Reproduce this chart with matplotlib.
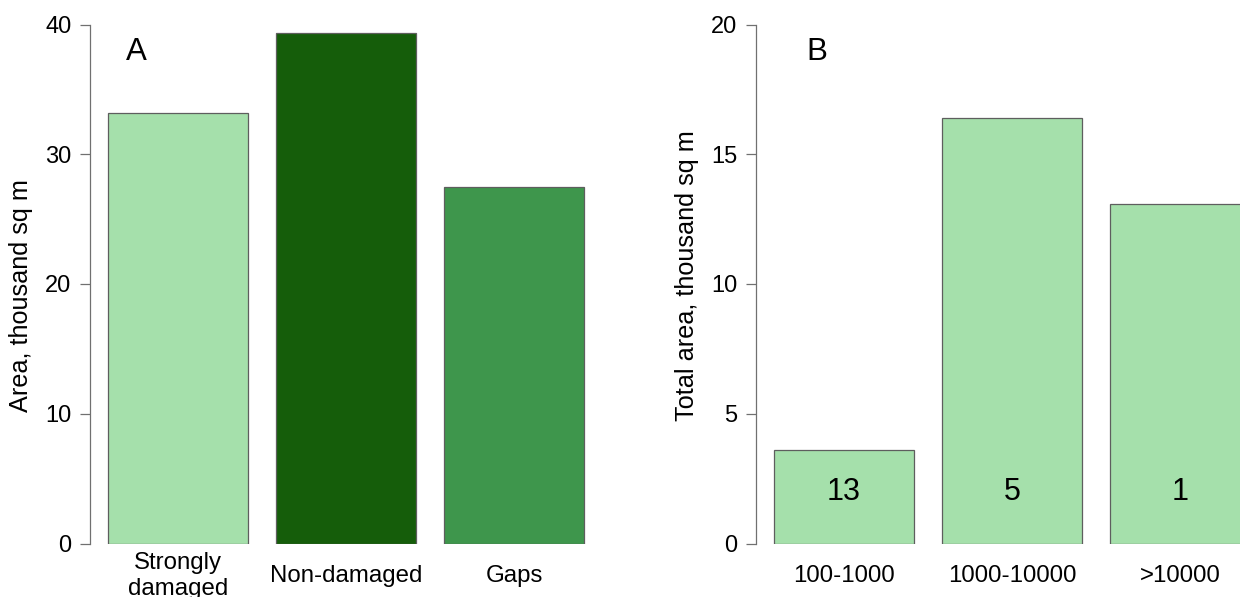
import numpy as np
import matplotlib
matplotlib.use('Agg')
import matplotlib.pyplot as plt

plt.rcParams['font.family'] = ['Liberation Sans', 'DejaVu Sans']

# Panel A: area by canopy condition (thousand sq m)
cond_labels = ['Strongly\ndamaged', 'Non-damaged', 'Gaps']
cond_area = [33.15, 39.34, 27.48]
cond_colors = ['#a5e0ab', '#155d0a', '#3e964c']

# Panel B: total gap area by gap size class, with number of gaps
size_labels = ['100-1000', '1000-10000', '>10000']
size_area = [3.62, 16.41, 13.07]
size_counts = [13, 5, 1]
size_color = '#a5e0ab'

W, H = 1240, 597
fig = plt.figure(figsize=(W / 100, H / 100), dpi=100)

bar_w = 1.0
space = 0.2
px_per_unit = 140.0
ax_w_px = 513
ax_top, ax_bot = 24.5, 543.5


def make_axes(left_px):
    ax = fig.add_axes([left_px / W, (H - ax_bot) / H, ax_w_px / W, (ax_bot - ax_top) / H])
    return ax


def style_axes(ax, ymax, yticks):
    x0 = space - 18 / px_per_unit
    ax.set_xlim(x0, x0 + ax_w_px / px_per_unit)
    ax.set_ylim(0, ymax)
    for s in ['top', 'right', 'bottom']:
        ax.spines[s].set_visible(False)
    ax.spines['left'].set_color('#707070')
    ax.spines['left'].set_linewidth(0.9)
    ax.set_yticks(yticks)
    ax.tick_params(axis='y', length=7, width=0.9, color='#707070', pad=6.5, labelsize=17)
    ax.set_xticks([])


def bar_centers(n):
    return np.array([space + i * (bar_w + space) + bar_w / 2 for i in range(n)])


def add_xlabels(ax, centers, labels):
    for x, lab in zip(centers, labels):
        ax.annotate(lab, xy=(x, 0), xycoords=('data', 'axes fraction'),
                    xytext=(0, -23.2), textcoords='offset points',
                    ha='center', va='center', fontsize=17.3, linespacing=1.22,
                    annotation_clip=False)


# --- Panel A ---
axA = make_axes(90)
cA = bar_centers(len(cond_area))
axA.bar(cA, cond_area, width=bar_w, color=cond_colors, edgecolor='#5e5e5e', linewidth=0.9)
style_axes(axA, 40, [0, 10, 20, 30, 40])
add_xlabels(axA, cA, cond_labels)
axA.set_ylabel('Area, thousand sq m', fontsize=18.2)
axA.yaxis.set_label_coords((33 - 90) / ax_w_px, (ax_bot - 296) / (ax_bot - ax_top))
axA.text(0.405, 37.9, 'A', fontsize=22.5, ha='center', va='center')

# --- Panel B ---
axB = make_axes(756)
cB = bar_centers(len(size_area))
axB.bar(cB, size_area, width=bar_w, color=size_color, edgecolor='#5e5e5e', linewidth=0.9)
style_axes(axB, 20, [0, 5, 10, 15, 20])
add_xlabels(axB, cB, size_labels)
for x, n in zip(cB, size_counts):
    axB.text(x, 2, str(n), fontsize=22, ha='center', va='center')
axB.set_ylabel('Total area, thousand sq m', fontsize=18.2)
axB.yaxis.set_label_coords((699 - 756) / ax_w_px, (ax_bot - 276) / (ax_bot - ax_top))
axB.text(0.505, 18.95, 'B', fontsize=22.5, ha='center', va='center')

fig.savefig('out.png', dpi=100)
